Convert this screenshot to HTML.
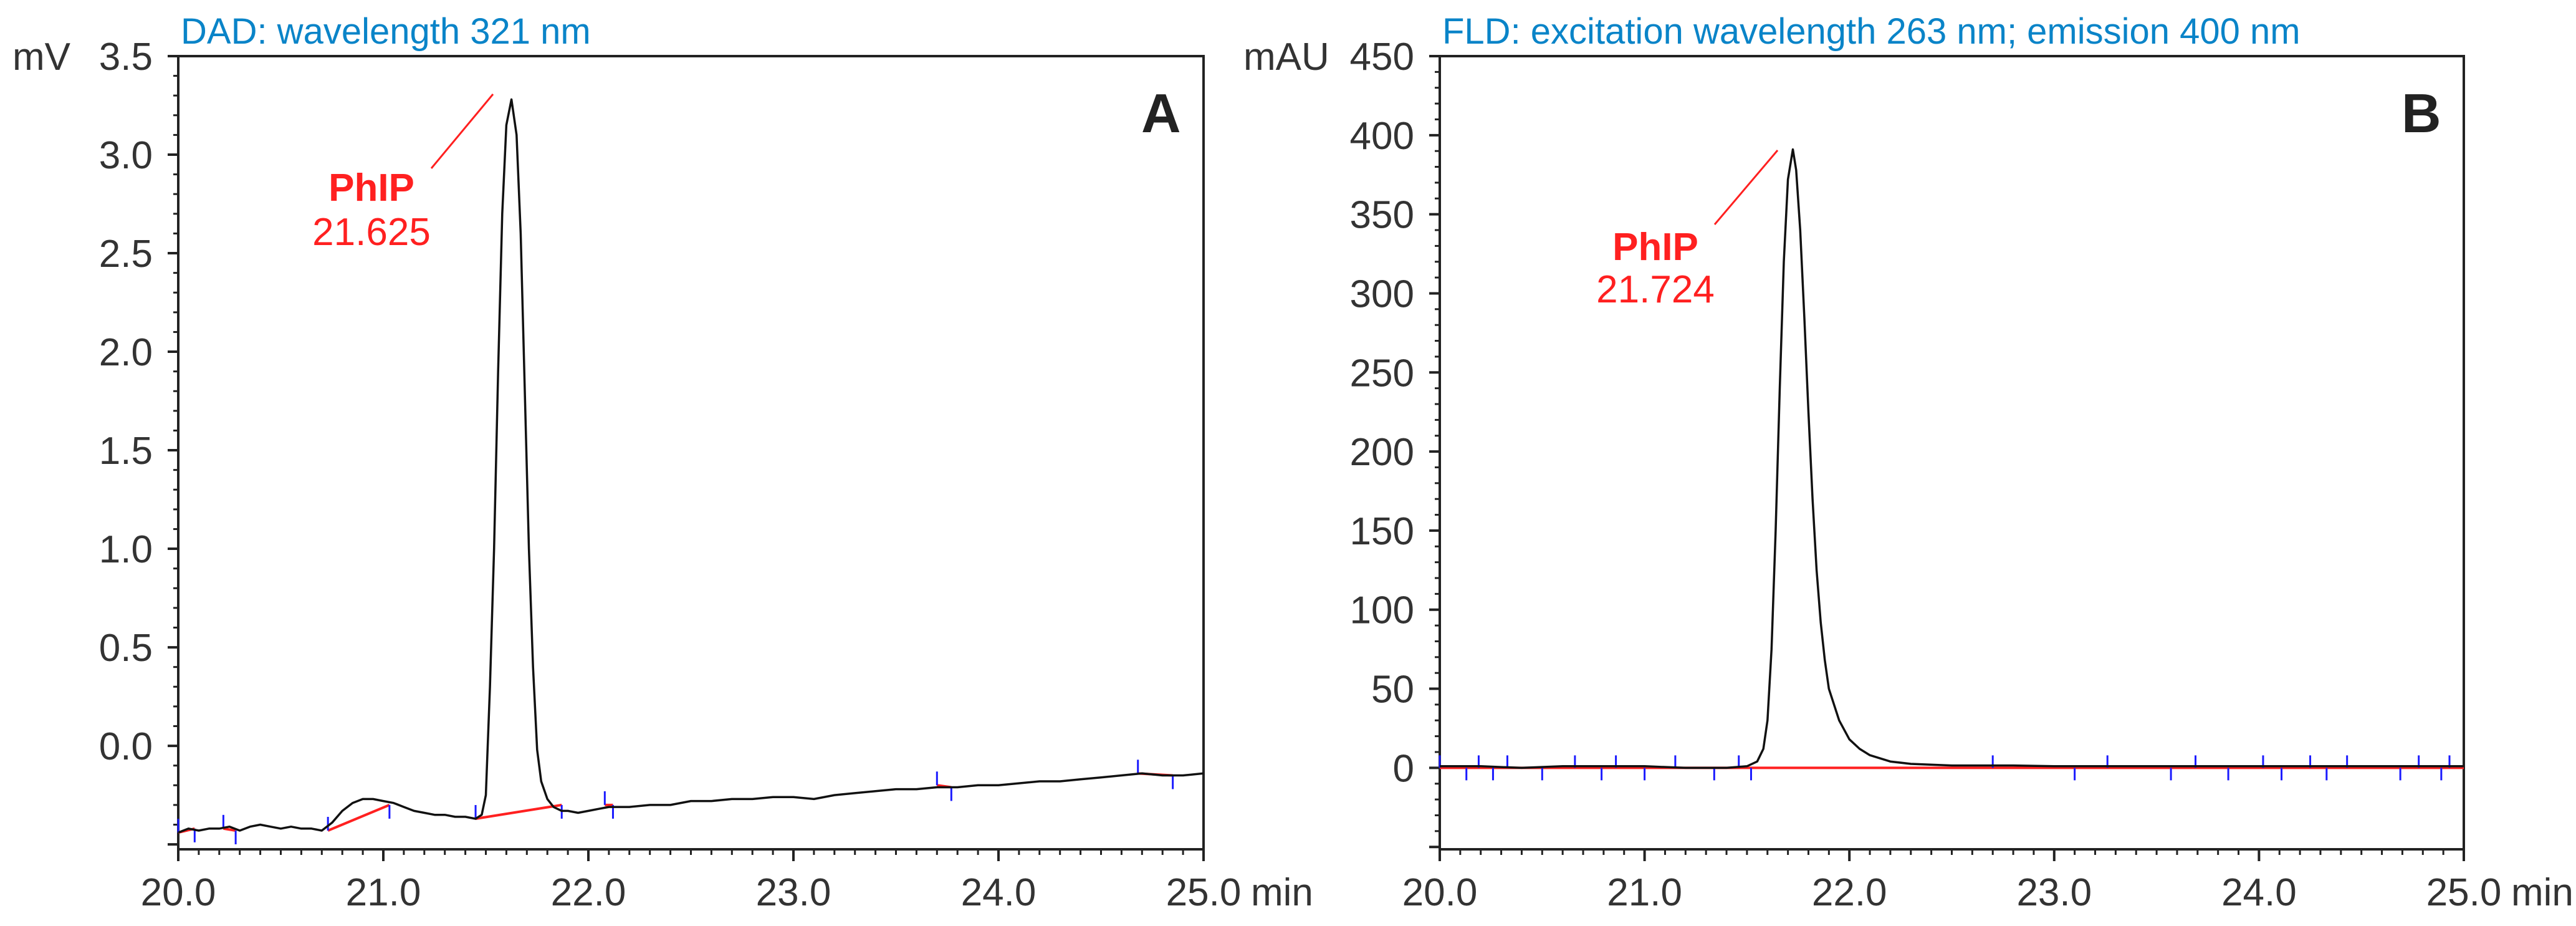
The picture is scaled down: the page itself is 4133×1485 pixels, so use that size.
<!DOCTYPE html>
<html><head><meta charset="utf-8"><style>
html,body{margin:0;padding:0;background:#fff;}
svg{display:block;font-family:"Liberation Sans",Arial,sans-serif;}
</style></head><body>
<svg id="c" width="4133" height="1485" viewBox="0 0 4133 1485" xmlns="http://www.w3.org/2000/svg"></svg>
<script>
// Panel A data (DAD)
const aTimes=[20.0,20.05,20.1,20.15,20.2,20.25,20.3,20.35,20.4,20.45,20.5,20.55,20.6,20.65,20.7,20.75,20.8,20.85,20.9,20.95,21.0,21.05,21.1,21.15,21.2,21.25,21.3,21.35,21.4,21.45,21.48,21.5,21.52,21.54,21.56,21.58,21.6,21.625,21.65,21.67,21.69,21.71,21.73,21.75,21.77,21.8,21.83,21.87,21.9,21.95,22.0,22.05,22.1,22.2,22.3,22.4,22.5,22.6,22.7,22.8,22.9,23.0,23.1,23.2,23.3,23.4,23.5,23.6,23.7,23.8,23.9,24.0,24.1,24.2,24.3,24.4,24.5,24.6,24.7,24.8,24.9,25.0];
const aValues=[-0.44,-0.42,-0.43,-0.42,-0.42,-0.41,-0.43,-0.41,-0.40,-0.41,-0.42,-0.41,-0.42,-0.42,-0.43,-0.39,-0.33,-0.29,-0.27,-0.27,-0.28,-0.29,-0.31,-0.33,-0.34,-0.35,-0.35,-0.36,-0.36,-0.37,-0.35,-0.25,0.3,1.0,1.9,2.7,3.15,3.28,3.1,2.6,1.8,1.0,0.4,-0.02,-0.18,-0.27,-0.31,-0.33,-0.33,-0.34,-0.33,-0.32,-0.31,-0.31,-0.30,-0.30,-0.28,-0.28,-0.27,-0.27,-0.26,-0.26,-0.27,-0.25,-0.24,-0.23,-0.22,-0.22,-0.21,-0.21,-0.20,-0.20,-0.19,-0.18,-0.18,-0.17,-0.16,-0.15,-0.14,-0.15,-0.15,-0.14];
const aBaseStart=[20.0,20.22,20.73,21.45,22.08,23.70,24.68];
const aBaseStartV=[-0.44,-0.42,-0.43,-0.37,-0.30,-0.20,-0.14];
const aBaseEnd=[20.08,20.28,21.03,21.87,22.12,23.77,24.85];
const aBaseEndV=[-0.42,-0.43,-0.30,-0.30,-0.30,-0.21,-0.15];
const aYTicks=[0.0,0.5,1.0,1.5,2.0,2.5,3.0,3.5];
const aYLabels=["0.0","0.5","1.0","1.5","2.0","2.5","3.0","3.5"];
// Panel B data (FLD)
const bTimes=[20.0,20.2,20.4,20.6,20.8,21.0,21.2,21.4,21.5,21.55,21.58,21.6,21.62,21.64,21.66,21.68,21.7,21.724,21.74,21.76,21.78,21.8,21.82,21.84,21.86,21.88,21.9,21.95,22.0,22.05,22.1,22.2,22.3,22.5,22.8,23.0,23.5,24.0,24.5,25.0];
const bValues=[1,1,0,1,1,1,0,0,1,4,12,30,75,150,240,320,372,391,378,340,285,225,170,125,92,68,50,30,18,12,8,4,2.5,1.5,1.5,1,1,1,1,1];
const bTickTimes=[20.0,20.13,20.19,20.26,20.33,20.5,20.66,20.79,20.86,21.0,21.15,21.34,21.46,21.52,22.7,23.1,23.26,23.57,23.69,23.85,24.02,24.11,24.25,24.33,24.43,24.69,24.78,24.89,24.93];
const xTicks=[20,21,22,23,24,25];
const xLabels=["20.0","21.0","22.0","23.0","24.0","25.0"];
const bYTicks=[0,50,100,150,200,250,300,350,400,450];

const svg=document.getElementById('c');
const NS='http://www.w3.org/2000/svg';
function mk(tag,attrs,parent){const e=document.createElementNS(NS,tag);for(const k in attrs)e.setAttribute(k,attrs[k]);(parent||svg).appendChild(e);return e;}
function txt(s,attrs,name){const e=mk('text',attrs);e.textContent=s;


return e;}

function panel(o){
 const X=t=>o.x0+(t-20)/5*(o.x1-o.x0);
 const Y=v=>o.y1-(v-o.ymin)/(o.ymax-o.ymin)*(o.y1-o.y0);
 const g=mk('g',{});
 
 
 const fr=mk('rect',{x:o.x0,y:o.y0,width:o.x1-o.x0,height:o.y1-o.y0,fill:'none',stroke:'#222','stroke-width':4},g);
 
 
 // x ticks
 for(let i=0;i<=50;i++){const t=20+i*0.1;const xx=X(t);const major=i%10==0;
  const l=mk('line',{x1:xx,x2:xx,y1:o.y1,y2:o.y1+(major?19:9),stroke:'#222','stroke-width':major?4:3},g);
  
  }
 xTicks.forEach((t,i)=>{txt(xLabels[i],{x:X(t),y:1452,'font-size':62,'text-anchor':'middle',fill:'#333'},'x-tick-label');});
 txt('min',{x:X(25)+76,y:1452,'font-size':62,fill:'#333'},'x-axis-unit');
 // y ticks
 const step=o.minor;
 for(let v=o.ymax;v>=o.ymin-1e-9;v-=step){const yy=Y(v);const major=Math.abs(v/o.major-Math.round(v/o.major))<1e-6;
  const l=mk('line',{x1:o.x0-(major?17:8),x2:o.x0,y1:yy,y2:yy,stroke:'#222','stroke-width':major?4:3},g);
  
  }
 o.yt.forEach((v,i)=>{txt(o.yl[i],{x:o.x0-41,y:Y(v)+22,'font-size':62,'text-anchor':'end',fill:'#333'},'y-tick-label');});
 txt(o.unit,{x:o.unitX,y:112,'font-size':62,'text-anchor':'start',fill:'#333'},'y-axis-unit');
 txt(o.title,{x:o.x0+4,y:70,'font-size':58,fill:'#0a84c8'},'panel-title');
 txt(o.letter,{x:o.x1-100,y:212,'font-size':88,'font-weight':'bold',fill:'#222'},'panel-letter');
 return {X,Y,g};
}

// Panel A
const A=panel({name:'panel-a',x0:286,x1:1931,y0:90,y1:1362,ymin:-0.525,ymax:3.5,minor:0.1,major:0.5,yt:aYTicks,yl:aYLabels,unit:'mV',unitX:20,title:'DAD: wavelength 321 nm',letter:'A'});
for(let i=0;i<aBaseStart.length;i++){
 const l=mk('line',{x1:A.X(aBaseStart[i]),y1:A.Y(aBaseStartV[i]),x2:A.X(aBaseEnd[i]),y2:A.Y(aBaseEndV[i]),stroke:'#ff2020','stroke-width':4});
 
 
 [[aBaseStart[i],aBaseStartV[i]],[aBaseEnd[i],aBaseEndV[i]]].forEach((p,j)=>{
  const yy=A.Y(p[1]);
  const m=mk('line',{x1:A.X(p[0]),x2:A.X(p[0]),y1:j?yy:yy-22,y2:j?yy+22:yy,stroke:'#1a1aff','stroke-width':3});
  
  
 });
}
let d='';aTimes.forEach((t,i)=>{d+=(i?'L':'M')+A.X(t).toFixed(1)+','+A.Y(aValues[i]).toFixed(1);});
const pa=mk('path',{d:d,fill:'none',stroke:'#111','stroke-width':3.5,'stroke-linejoin':'round'});


const la=mk('line',{x1:791,y1:151,x2:692,y2:270,stroke:'#ff2020','stroke-width':3});


txt('PhIP',{x:596,y:322,'font-size':62,'font-weight':'bold','text-anchor':'middle',fill:'#ff2020'},'peak-label');
txt('21.625',{x:596,y:393,'font-size':62,'text-anchor':'middle',fill:'#ff2020'},'peak-retention-time');

// Panel B
const B=panel({name:'panel-b',x0:2310,x1:3953,y0:90,y1:1362,ymin:-51.5,ymax:450,minor:10,major:50,yt:bYTicks,yl:bYTicks.map(String),unit:'mAU',unitX:1995,title:'FLD: excitation wavelength 263 nm; emission 400 nm',letter:'B'});
const rb=mk('line',{x1:B.X(20),x2:B.X(25),y1:B.Y(0),y2:B.Y(0),stroke:'#ff2020','stroke-width':4});


bTickTimes.forEach((t,i)=>{const yy=B.Y(0);const up=i%2==0;
 const m=mk('line',{x1:B.X(t),x2:B.X(t),y1:up?yy-20:yy,y2:up?yy:yy+20,stroke:'#1a1aff','stroke-width':3});
 
 });
let d2='';bTimes.forEach((t,i)=>{d2+=(i?'L':'M')+B.X(t).toFixed(1)+','+B.Y(bValues[i]).toFixed(1);});
const pb=mk('path',{d:d2,fill:'none',stroke:'#111','stroke-width':3.5,'stroke-linejoin':'round'});


const lb=mk('line',{x1:2852,y1:241,x2:2751,y2:360,stroke:'#ff2020','stroke-width':3});


txt('PhIP',{x:2656,y:417,'font-size':62,'font-weight':'bold','text-anchor':'middle',fill:'#ff2020'},'peak-label');
txt('21.724',{x:2656,y:485,'font-size':62,'text-anchor':'middle',fill:'#ff2020'},'peak-retention-time');
</script>
</body></html>
